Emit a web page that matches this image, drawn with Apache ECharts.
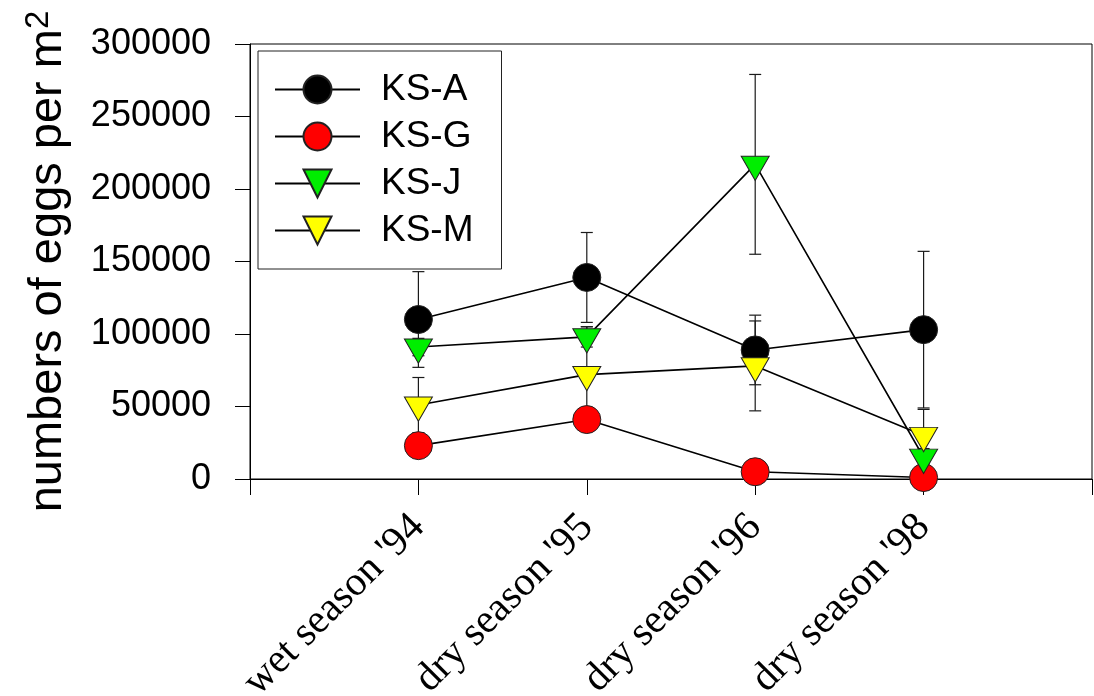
<!DOCTYPE html>
<html>
<head>
<meta charset="utf-8">
<script src="https://cdn.jsdelivr.net/npm/echarts@6/dist/echarts.min.js"></script>
<style>html,body{margin:0;padding:0;background:#fff}#c{width:1094px;height:696px}</style>
</head>
<body>
<div id="c"></div>
<script>
// ---- data ----
const categories = ["wet season '94", "dry season '95", "dry season '96", "dry season '98"];
const seriesNames = ['KS-A', 'KS-G', 'KS-J', 'KS-M'];
const ksA = [110000, 139000, 89000, 103000];
const ksA_err = [33000, 31000, 24000, 54000];
const ksG = [23000, 41000, 5000, 1000];
const ksG_err = [3000, 2000, 2000, 1000];
const ksJ = [91000, 98000, 217000, 15000];
const ksJ_err = [6000, 7000, 62000, 6000];
const ksM = [51000, 72000, 78000, 30000];
const ksM_err = [19000, 33000, 31000, 18000];
const yTicks = [0, 50000, 100000, 150000, 200000, 250000, 300000];

// ---- chart ----
const xCats = [''].concat(categories, ['']);
const triPath = 'path://M0,0L28,0L14,24.25Z';
const colors = ['#000000', '#ff0000', '#00ee00', '#ffff00'];
const symbols = ['circle', 'circle', triPath, triPath];
const allVals = [ksA, ksG, ksJ, ksM];
const allErrs = [ksA_err, ksG_err, ksJ_err, ksM_err];

function errSeries(i) {
  const vals = allVals[i], errs = allErrs[i];
  return {
    type: 'custom',
    name: seriesNames[i] + ' err',
    silent: true,
    encode: { x: 0, y: [1, 2] },
    data: vals.map((v, k) => [k + 1, v - errs[k], v + errs[k]]),
    renderItem: function (params, api) {
      const x = api.value(0);
      const p1 = api.coord([x, api.value(2)]);
      const p2 = api.coord([x, api.value(1)]);
      const w = 6;
      const st = { stroke: '#1a1a1a', lineWidth: 1.2 };
      return {
        type: 'group',
        children: [
          { type: 'line', shape: { x1: p1[0], y1: p1[1], x2: p2[0], y2: p2[1] }, style: st },
          { type: 'line', shape: { x1: p1[0] - w, y1: p1[1], x2: p1[0] + w, y2: p1[1] }, style: st },
          { type: 'line', shape: { x1: p2[0] - w, y1: p2[1], x2: p2[0] + w, y2: p2[1] }, style: st }
        ]
      };
    }
  };
}

function lineSeries(i) {
  const tri = symbols[i] !== 'circle';
  return {
    type: 'line',
    name: seriesNames[i],
    data: [null].concat(allVals[i], [null]),
    symbol: symbols[i],
    symbolSize: tri ? [28, 24.25] : 28,
    symbolOffset: tri ? [0, 4] : [0, 0],
    showAllSymbol: true,
    lineStyle: { color: '#000', width: 1.6 },
    itemStyle: { color: colors[i], borderColor: '#222', borderWidth: 1 },
    emphasis: { disabled: true },
    animation: false
  };
}

const series = [];
for (let i = 0; i < 4; i++) { series.push(errSeries(i)); series.push(lineSeries(i)); }

const chart = echarts.init(document.getElementById('c'));
chart.setOption({
  animation: false,
  backgroundColor: '#fff',
  grid: { left: 250, right: 2, top: 44, bottom: 217, outerBoundsMode: 'none', containLabel: false, show: true, borderColor: '#000', borderWidth: 1, backgroundColor: 'transparent' },
  legend: {
    data: seriesNames,
    orient: 'vertical',
    left: 258,
    top: 51,
    padding: [20, 28, 20, 16],
    itemWidth: 85,
    itemHeight: 35,
    itemGap: 10,
    borderColor: '#222',
    borderWidth: 1,
    backgroundColor: '#fff',
    selectedMode: false,
    textStyle: { fontFamily: 'Liberation Sans', fontSize: 37, color: '#000', padding: [0, 0, 0, 16] }
  },
  xAxis: {
    type: 'category',
    data: xCats,
    boundaryGap: false,
    axisLine: { lineStyle: { color: '#000', width: 1 } },
    axisTick: { show: true, interval: 0, length: 16, lineStyle: { color: '#000' } },
    axisLabel: { interval: 0, rotate: 45, margin: 42, fontFamily: 'Liberation Serif', fontSize: 41, color: '#000' },
    splitLine: { show: false }
  },
  yAxis: {
    type: 'value',
    min: yTicks[0],
    max: yTicks[yTicks.length - 1],
    interval: yTicks[1] - yTicks[0],
    name: '{a|numbers of eggs per m}{b|2}',
    nameLocation: 'middle',
    nameGap: 176,
    nameTextStyle: {
      rich: {
        a: { fontFamily: 'Liberation Sans', fontSize: 47, color: '#000', lineHeight: 52 },
        b: { fontFamily: 'Liberation Sans', fontSize: 33, color: '#000', lineHeight: 34, verticalAlign: 'top' }
      }
    },
    axisLine: { show: true, lineStyle: { color: '#000', width: 1 } },
    axisTick: { show: true, length: 15, lineStyle: { color: '#000' } },
    axisLabel: { margin: 39, fontFamily: 'Liberation Sans', fontSize: 36, color: '#000', formatter: v => String(v) },
    splitLine: { show: false }
  },
  series: series
});
</script>
</body>
</html>
